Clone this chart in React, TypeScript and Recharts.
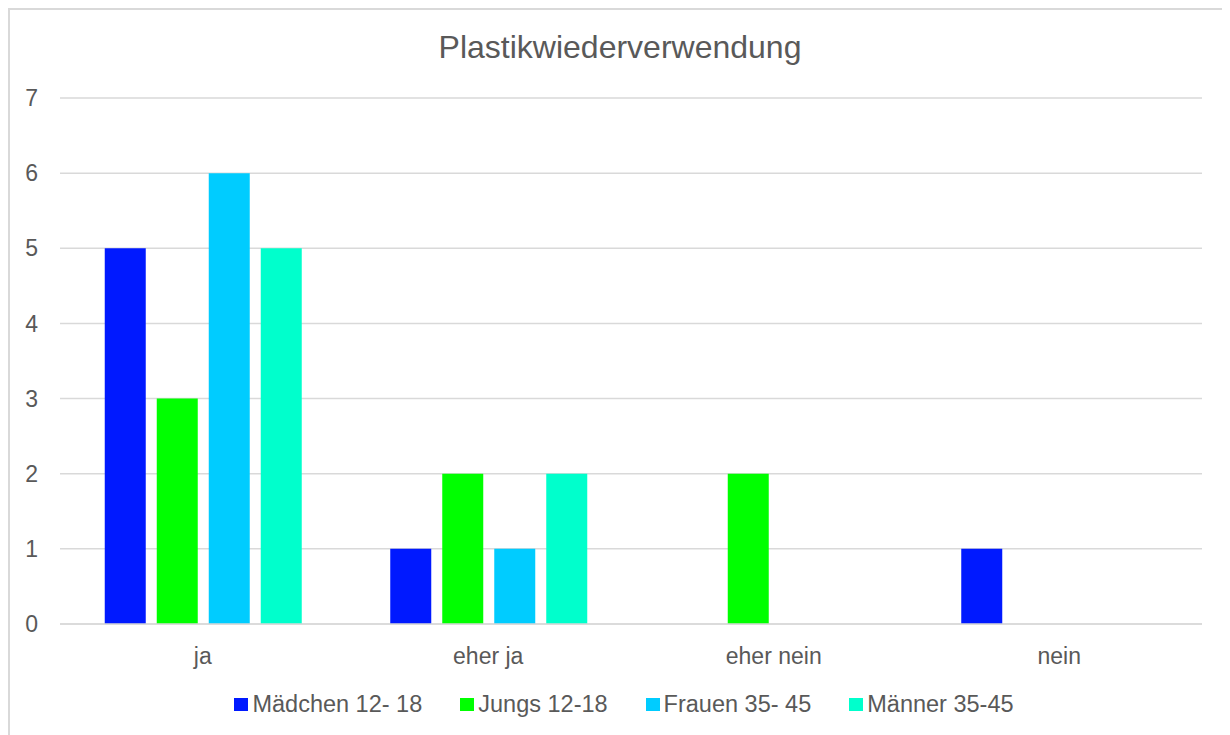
import { BarChart, Bar, XAxis, YAxis, CartesianGrid, Legend } from "recharts";

const categories = ["ja", "eher ja", "eher nein", "nein"];
const maedchen = [5, 1, 0, 1];
const jungs = [3, 2, 2, 0];
const frauen = [6, 1, 0, 0];
const maenner = [5, 2, 0, 0];
const yTicks = [0, 1, 2, 3, 4, 5, 6, 7];

const series = [
  { key: "maedchen", name: "Mädchen 12- 18", color: "#0019ff" },
  { key: "jungs", name: "Jungs 12-18", color: "#00ff00" },
  { key: "frauen", name: "Frauen 35- 45", color: "#00ccff" },
  { key: "maenner", name: "Männer 35-45", color: "#00ffcc" },
];

const data = categories.map((c, i) => ({
  name: c,
  maedchen: maedchen[i],
  jungs: jungs[i],
  frauen: frauen[i],
  maenner: maenner[i],
}));

const font = "'Liberation Sans', Arial, sans-serif";
const textColor = "#595959";

function LegendBox() {
  return (
    <div
      style={{
        height: 58,
        display: "flex",
        justifyContent: "center",
        alignItems: "flex-start",
        gap: 38,
        fontFamily: font,
        fontSize: 23.5,
        color: textColor,
      }}
    >
      {series.map((s) => (
        <div
          key={s.key}
          style={{ display: "flex", alignItems: "center", height: 24, marginTop: 12 }}
        >
          <span
            style={{ width: 14, height: 13, background: s.color, marginRight: 4, display: "inline-block" }}
          />
          <span style={{ lineHeight: "24px" }}>{s.name}</span>
        </div>
      ))}
    </div>
  );
}

export default function App() {
  return (
    <div
      style={{
        position: "relative",
        width: 1222,
        height: 727,
        borderTop: "2px solid #d9d9d9",
        borderLeft: "2px solid #d9d9d9",
        boxSizing: "border-box",
        overflow: "hidden",
        background: "#fff",
      }}
    >
      <div
        style={{
          position: "absolute",
          top: 21,
          left: 0,
          width: 1220,
          textAlign: "center",
          fontFamily: font,
          fontSize: 32,
          lineHeight: 1,
          color: textColor,
        }}
      >
        Plastikwiederverwendung
      </div>
      <BarChart
        width={1228}
        height={728}
        data={data}
        margin={{ top: 88, right: 36, left: 0, bottom: 0 }}
        barCategoryGap={44.75}
        barGap={11}
      >
        <CartesianGrid vertical={false} stroke="#d9d9d9" strokeWidth={1.5} />
        <XAxis
          dataKey="name"
          height={56}
          tickSize={0}
          tickMargin={24}
          axisLine={{ stroke: "#d9d9d9", strokeWidth: 1.5 }}
          tickLine={false}
          tick={{ fill: textColor, fontSize: 23, fontFamily: font }}
        />
        <YAxis
          width={50}
          domain={[0, 7]}
          ticks={yTicks}
          tickSize={0}
          tickMargin={22}
          axisLine={false}
          tickLine={false}
          tick={{ fill: textColor, fontSize: 23, fontFamily: font }}
        />
        <Legend
          verticalAlign="bottom"
          wrapperStyle={{ left: 0, width: 1228 }}
          content={() => <LegendBox />}
        />
        {series.map((s) => (
          <Bar key={s.key} dataKey={s.key} name={s.name} fill={s.color} isAnimationActive={false} />
        ))}
      </BarChart>
    </div>
  );
}
